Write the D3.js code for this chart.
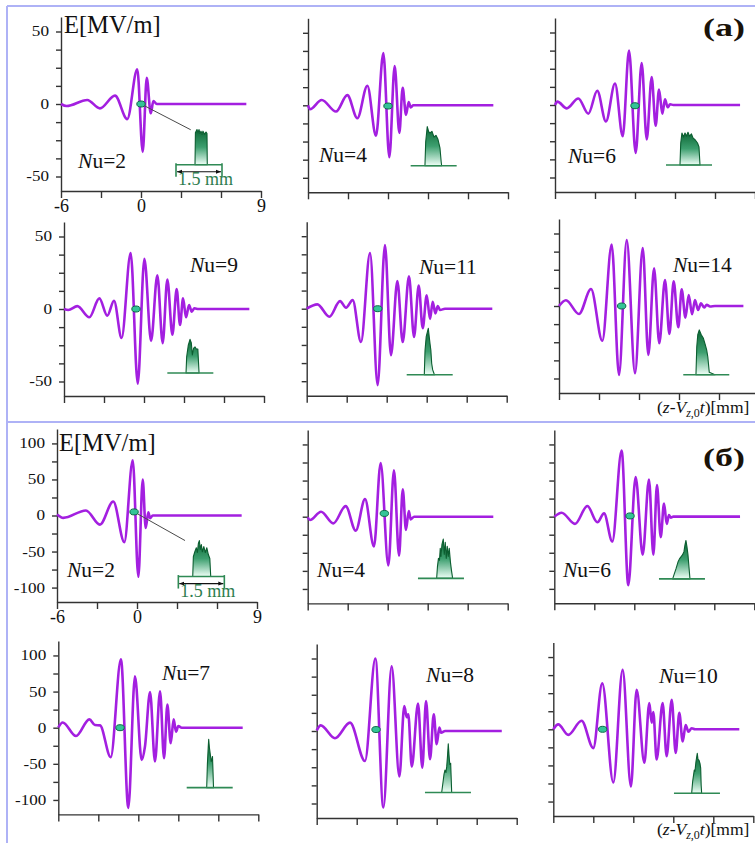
<!DOCTYPE html>
<html>
<head>
<meta charset="utf-8">
<script src="https://cdn.jsdelivr.net/npm/d3@7"></script>
<style>
  html, body { margin: 0; padding: 0; background: #fff; }
  svg { display: block; }
</style>
</head>
<body>
<svg id="fig" width="755" height="843"></svg>
<script>
// ---------- axes ----------
const X_DOMAIN = [-6, 9];
const X_TICKS = [-6, -3, 0, 3, 6, 9];
const X_TICK_LABELS = [-6, 0, 9];
const Y_DOMAIN_A = [-60, 60];
const Y_TICKS_A = [-50, -37.5, -25, -12.5, 0, 12.5, 25, 37.5, 50];
const Y_TICK_LABELS_A = [-50, 0, 50];
const Y_DOMAIN_B = [-120, 120];
const Y_TICKS_B = [-100, -75, -50, -25, 0, 25, 50, 75, 100];
const Y_TICK_LABELS_B = [-100, -50, 0, 50, 100];

// ---------- undulator periods ----------
const NU_A = [2, 4, 6, 9, 11, 14];
const NU_B = [2, 4, 6, 7, 8, 10];

// ---------- field E [MV/m] vs (z - Vz0 t) [mm]: extrema and knots ----------
const fieldA2 = [[-6,0],[-5.58,-1.4],[-4.03,2.8],[-3.08,-3],[-1.95,5.8],[-1.03,-10.4],[-0.28,24],[0.13,-33],[0.43,18],[0.73,-6.4],[0.93,2],[1.18,0],[7.9,0]];
const fieldA4 = [[-6,0],[-5.85,-2.7],[-4.97,3.7],[-3.9,-4.3],[-3.05,7],[-2.3,-8.9],[-1.55,13.5],[-0.9,-21],[-0.35,36],[0.1,-35.8],[0.5,27],[0.85,-19],[1.1,12],[1.35,-6.6],[1.55,2.3],[1.7,-1.4],[1.9,0],[7.9,0]];
const fieldA6 = [[-6,0],[-5.82,2.3],[-5.12,-2.3],[-4.25,4.5],[-3.5,-6],[-2.83,9.8],[-2.18,-11.4],[-1.5,14.8],[-0.92,-21.6],[-0.45,37.5],[0.05,-33],[0.5,29],[0.88,-23.8],[1.25,19.3],[1.55,-14.3],[1.8,10.7],[2.05,-6],[2.25,3.9],[2.45,-1.6],[2.63,0.5],[2.88,0],[7.88,0]];
const fieldA9 = [[-6,0],[-5.68,-0.7],[-5,2],[-4.1,-5.7],[-3.35,7.3],[-2.75,-4.6],[-2.25,5.7],[-1.68,-20],[-1.0,38.5],[-0.47,-51.5],[0.03,34.7],[0.53,-22],[1.0,23.3],[1.4,-23.5],[1.75,20.3],[2.13,-17.8],[2.45,13.7],[2.7,-11],[2.93,7.3],[3.15,-5.7],[3.38,2.7],[3.58,-1.8],[3.78,0.5],[4.08,0],[7.9,0]];
const fieldA11 = [[-6,0],[-5.2,3],[-4.3,-5.5],[-3.5,5.2],[-3.05,0.7],[-2.55,5.9],[-1.93,-23],[-1.25,38.4],[-0.68,-52.7],[-0.13,43.9],[0.32,-32],[0.8,19],[1.2,-23],[1.67,22.3],[2.05,-19.5],[2.4,16],[2.7,-13.4],[3.0,9.3],[3.25,-7],[3.45,4.8],[3.65,-3.2],[3.83,1.8],[4.0,-0.9],[4.37,0],[7.92,0]];
const fieldA14 = [[-6,0],[-5.48,4],[-4.5,-5.5],[-3.6,11.7],[-2.75,-24],[-2.05,42.4],[-1.5,-47.5],[-0.92,45.4],[-0.3,-46.3],[0.28,40],[0.7,-33.7],[1.13,26],[1.52,-25.7],[1.95,17.9],[2.28,-19.3],[2.6,17],[2.95,-14.7],[3.2,11.5],[3.48,-8],[3.73,7.6],[3.98,-5.7],[4.2,4.1],[4.43,-2.8],[4.65,1.8],[4.88,-1],[5.08,0.8],[5.33,-0.3],[5.7,0],[7.83,0]];

const fieldB2 = [[-6,1.4],[-5.53,-3.3],[-3.83,7],[-2.78,-12.6],[-1.78,19.5],[-0.95,-37],[-0.32,76.7],[0.1,-85],[0.43,49.8],[0.65,-17.2],[0.85,4.6],[0.98,-3.7],[1.18,0],[7.85,0]];
const fieldB4 = [[-6,-1],[-5.83,-4.6],[-5.0,6.9],[-4.08,-9.2],[-3.15,14.7],[-2.4,-19.3],[-1.7,24.3],[-1.03,-41.3],[-0.53,74.3],[0.05,-67.4],[0.47,64.2],[0.85,-54],[1.13,38],[1.37,-18.3],[1.58,7.8],[1.73,-3.7],[1.98,0],[7.92,0]];
const fieldB6 = [[-6,0],[-5.45,5.5],[-4.45,-10],[-3.52,14.7],[-2.77,-7.8],[-2.27,4.6],[-1.65,-34.4],[-0.95,91.7],[-0.45,-95],[0.1,55],[0.63,-52.8],[1.1,51.4],[1.43,-52.8],[1.7,43.6],[1.98,-28.4],[2.23,18.3],[2.43,-10],[2.6,2.3],[2.73,-1.4],[2.93,0],[7.93,0]];
const fieldB7 = [[-6,0.5],[-5.67,7.3],[-4.67,-11.5],[-3.67,11.5],[-3.25,3.7],[-2.87,3.2],[-2.07,-40.8],[-1.3,94.5],[-0.75,-111],[-0.25,71],[0.25,-44.5],[0.5,-26],[0.88,49.5],[1.25,-46.8],[1.63,50.5],[1.93,-42.2],[2.18,32],[2.43,-21.6],[2.65,11.5],[2.83,-5.5],[3.0,2.3],[3.25,0],[7.83,0]];
const fieldB8 = [[-6,0.9],[-5.7,7.8],[-4.63,-10],[-3.5,11.5],[-2.38,-41.3],[-1.6,100],[-1.0,-105.5],[-0.38,89.4],[0.2,-62.8],[0.57,34.4],[0.75,19],[0.87,23],[1.13,-49],[1.6,38],[1.92,-50.5],[2.2,41.3],[2.5,-39],[2.78,23],[3.0,-18.3],[3.2,4.6],[3.33,-2.3],[3.63,0],[7.88,0]];
const fieldB10 = [[-6,0],[-5.63,6.8],[-4.88,-7.7],[-3.88,11.8],[-3.0,-26],[-2.33,63.6],[-1.5,-73.6],[-0.8,82.3],[-0.18,-79],[0.25,54.5],[0.83,-46.4],[1.2,36.4],[1.38,9],[1.5,24],[1.75,-41.8],[2.2,36.4],[2.5,-37.3],[2.88,41],[3.18,-32.7],[3.45,22.7],[3.7,-16.8],[3.93,5.9],[4.13,-3.2],[4.38,1.4],[4.63,0],[7.95,0]];

// ---------- bunch position (mm, E) ----------
const bunchPosA = [[0,0],[0,-0.5],[0,-0.5],[-0.6,0],[-0.67,0],[-1.3,0]];
const bunchPosB = [[-0.22,5],[-0.25,4.5],[-0.32,1],[-1.37,0],[-1.55,2],[-2.3,0]];

// ---------- bunch current profiles: [mm within 1.5 mm window, relative height] ----------
const bunchA2 = [[0.62,0],[0.633,0.80],[0.652,0.83],[0.685,0.88],[0.717,0.80],[0.75,0.88],[0.783,0.78],[0.815,0.84],[0.848,0.76],[0.88,0.84],[0.929,0.76],[0.978,0.82],[1.011,0.78],[1.02,0]];
const bunchA4 = [[0.466,0],[0.49,0.6],[0.541,0.98],[0.587,0.85],[0.629,0.82],[0.695,0.86],[0.76,0.72],[0.825,0.76],[0.89,0.66],[0.955,0.45],[0.995,0.1],[1.01,0]];
const bunchA6 = [[0.456,0],[0.48,0.55],[0.52,0.8],[0.57,0.7],[0.62,0.8],[0.668,0.72],[0.717,0.82],[0.766,0.72],[0.83,0.78],[0.88,0.68],[0.962,0.62],[1.027,0.55],[1.076,0.45],[1.109,0]];
const bunchA9 = [[0.61,0],[0.63,0.4],[0.685,0.7],[0.74,0.84],[0.783,0.75],[0.815,0.45],[0.858,0.62],[0.903,0.65],[0.946,0.6],[0.995,0.6],[1.034,0]];
const bunchA11 = [[0.574,0],[0.597,0.6],[0.636,0.95],[0.704,1.16],[0.734,0.95],[0.76,0.78],[0.789,0.6],[0.815,0.28],[0.848,0.12],[0.89,0.03],[0.913,0]];
const bunchA14 = [[0.414,0],[0.44,0.7],[0.473,1.0],[0.522,1.12],[0.587,1.0],[0.652,0.92],[0.717,0.75],[0.763,0.62],[0.8,0.45],[0.848,0.06],[1.034,0]];
const bunchB2 = [[0.47,0],[0.49,0.5],[0.538,0.62],[0.587,0.72],[0.62,0.6],[0.652,0.82],[0.685,0.9],[0.717,0.68],[0.75,0.8],[0.783,0.62],[0.831,0.75],[0.88,0.6],[0.929,0.72],[0.978,0.55],[1.027,0.45],[1.056,0]];
const bunchB4 = [[0.61,0],[0.636,0.3],[0.668,0.5],[0.701,0.45],[0.727,0.75],[0.75,0.55],[0.783,0.85],[0.825,0.98],[0.858,0.6],[0.89,0.9],[0.923,0.5],[0.955,0.8],[0.988,0.55],[1.02,0.75],[1.06,0.4],[1.092,0.2],[1.131,0]];
const bunchB6 = [[0.447,0],[0.489,0.1],[0.554,0.25],[0.62,0.42],[0.668,0.5],[0.717,0.55],[0.766,0.6],[0.815,0.68],[0.848,0.85],[0.88,0.96],[0.913,0.8],[0.946,0.6],[0.978,0.3],[1.011,0]];
const bunchB7 = [[0.652,0],[0.675,0.6],[0.701,1.0],[0.717,1.21],[0.74,1.0],[0.766,0.85],[0.799,0.65],[0.825,0.72],[0.841,0.78],[0.858,0.4],[0.874,0]];
const bunchB8 = [[0.545,0],[0.587,0.25],[0.62,0.45],[0.652,0.56],[0.685,0.5],[0.708,0.64],[0.734,0.9],[0.76,1.22],[0.783,0.95],[0.809,0.7],[0.838,0.73],[0.858,0.3],[0.871,0]];
const bunchB10 = [[0.577,0],[0.61,0.3],[0.662,0.58],[0.685,0.55],[0.717,0.79],[0.76,1.0],[0.783,0.85],[0.815,0.83],[0.848,0.75],[0.871,0.63],[0.887,0.2],[0.903,0]];

const SCALE_BAR_MM = 1.5;

// ---------- layout ----------
// axis box of every panel: [left px, top px, bottom px]; width is common
const PANEL_W = 200;
const BOX_A = [[61,17,191],[308,18.3,192.3],[555,18,192],[64,222,396],[306.7,221.7,395.7],[559,219,393]];
const BOX_B = [[57,429,602],[307.7,430,603.4],[554.3,430,603.3],[58.3,641,814.4],[316.7,644,818],[553.3,642.6,816]];
// inset anchor (panel mm, panel E) and label anchor (panel mm, panel E)
const INSET_AT_A = [[2.625,-41.9],[1.70,-41.7],[2.325,-41.4],[1.75,-44.1],[1.5,-45.5],[3.32,-47.4]];
const INSET_AT_B = [[3.1,-84.7],[2.27,-85.3],[1.85,-86.2],[3.63,-83],[2.12,-84.8],[3.05,-88.6]];
const LABEL_AT_A = [[-4.72,-44.1],[-5.18,-38.9],[-5.03,-40],[3.45,25.7],[2.42,23.9],[2.55,23.7]];
const LABEL_AT_B = [[-5.25,-84.7],[-5.3,-83.5],[-5.35,-83],[1.78,66],[2.2,68.2],[1.93,64]];
const INSET_W = 46, INSET_H = 40;

const COLORS = {
  wave: "#a31fe0", axis: "#333", frame: "#aeb2f6",
  bunchLine: "#2f8a55", bunchStroke: "#0b5e30",
  dotFill: "#34c497", dotStroke: "#0c6b47", text: "#111"
};
const SERIF = '"Liberation Serif", "Times New Roman", serif';

const svg = d3.select("#fig");
const defs = svg.append("defs");
const grad = defs.append("linearGradient").attr("id", "bunchFill")
  .attr("x1", 0).attr("y1", 0).attr("x2", 0).attr("y2", 1);
grad.append("stop").attr("offset", "0").attr("stop-color", "#0b6634");
grad.append("stop").attr("offset", "0.5").attr("stop-color", "#3d9f6f");
grad.append("stop").attr("offset", "1").attr("stop-color", "#effff7");
defs.append("marker").attr("id", "arrowHead")
  .attr("viewBox", "0 0 10 10").attr("refX", 10).attr("refY", 5)
  .attr("markerWidth", 5).attr("markerHeight", 5).attr("markerUnits", "userSpaceOnUse")
  .attr("orient", "auto-start-reverse")
  .append("path").attr("d", "M0,1 L10,5 L0,9 Z").attr("fill", "#111");

// frames around the two sub-figures
const frame = svg.append("g").attr("stroke", COLORS.frame).attr("stroke-width", 2).attr("fill", "none");
frame.append("line").attr("x1", 7).attr("y1", 6).attr("x2", 755).attr("y2", 6);
frame.append("line").attr("x1", 7).attr("y1", 6).attr("x2", 7).attr("y2", 843);
frame.append("line").attr("x1", 7).attr("y1", 422).attr("x2", 755).attr("y2", 422);

const groups = [
  { nu: NU_A, fields: [fieldA2, fieldA4, fieldA6, fieldA9, fieldA11, fieldA14],
    bunches: [bunchA2, bunchA4, bunchA6, bunchA9, bunchA11, bunchA14],
    pos: bunchPosA, boxes: BOX_A, insetAt: INSET_AT_A, labelAt: LABEL_AT_A,
    yDomain: Y_DOMAIN_A, yTicks: Y_TICKS_A, yLabels: Y_TICK_LABELS_A },
  { nu: NU_B, fields: [fieldB2, fieldB4, fieldB6, fieldB7, fieldB8, fieldB10],
    bunches: [bunchB2, bunchB4, bunchB6, bunchB7, bunchB8, bunchB10],
    pos: bunchPosB, boxes: BOX_B, insetAt: INSET_AT_B, labelAt: LABEL_AT_B,
    yDomain: Y_DOMAIN_B, yTicks: Y_TICKS_B, yLabels: Y_TICK_LABELS_B }
];

// wide tick-label glyphs: fixed advance per digit and per minus sign
function labelWidth(s) {
  let w = 0;
  for (const c of s) w += (c === "-") ? 5.5 : 8.6;
  return w;
}

const line = d3.line().curve(d3.curveMonotoneX);

groups.forEach((grp, gi) => {
  grp.fields.forEach((field, i) => {
    const [L, T, B] = grp.boxes[i];
    const x = d3.scaleLinear().domain(X_DOMAIN).range([L, L + PANEL_W]);
    const y = d3.scaleLinear().domain(grp.yDomain).range([B, T]);
    const g = svg.append("g");
    const firstCol = (i % 3 === 0);
    const firstPanel = (i === 0);

    // x axis
    const xa = g.append("g").attr("transform", `translate(0,${B})`)
      .call(d3.axisBottom(x).tickValues(X_TICKS).tickSize(7).tickSizeOuter(0).tickPadding(1)
        .tickFormat(d => (firstPanel && X_TICK_LABELS.includes(d)) ? String(d) : ""));
    xa.selectAll("text").attr("font-family", SERIF).attr("font-size", 18).attr("fill", COLORS.text);

    // y axis
    const ya = g.append("g").attr("transform", `translate(${L},0)`)
      .call(d3.axisLeft(y).tickValues(grp.yTicks).tickSize(5).tickSizeOuter(0).tickPadding(7)
        .tickFormat(d => (firstCol && grp.yLabels.includes(d)) ? String(d) : ""));
    ya.selectAll("text").attr("font-family", SERIF).attr("font-size", 14).attr("fill", COLORS.text)
      .each(function () {
        const s = this.textContent;
        if (s) d3.select(this).attr("textLength", labelWidth(s)).attr("lengthAdjust", "spacingAndGlyphs");
      });
    g.selectAll(".domain, .tick line").attr("stroke", COLORS.axis).attr("stroke-width", 1.4);

    // field curve
    line.x(d => x(d[0])).y(d => y(d[1]));
    g.append("path").datum(field).attr("d", line)
      .attr("fill", "none").attr("stroke", COLORS.wave).attr("stroke-width", 2.6)
      .attr("stroke-linejoin", "round");

    // bunch profile inset
    const [ix, iy] = grp.insetAt[i];
    const x0 = x(ix), base = y(iy);
    const xi = d3.scaleLinear().domain([0, SCALE_BAR_MM]).range([x0, x0 + INSET_W]);
    const hi = d3.scaleLinear().domain([0, 1]).range([base, base - INSET_H]);
    const inset = g.append("g");

    // connector from the bunch marker to the inset (first panel of each set)
    const dot = grp.pos[i];
    if (firstPanel) {
      const tgt = gi === 0 ? [0.48, 0.875] : [0.218, 0.9];
      g.append("line").attr("x1", x(dot[0])).attr("y1", y(dot[1]))
        .attr("x2", xi(tgt[0])).attr("y2", hi(tgt[1]))
        .attr("stroke", "#4a4a4a").attr("stroke-width", 1);
    }

    inset.append("path").datum(grp.bunches[i])
      .attr("d", d3.area().x(d => xi(d[0])).y0(base).y1(d => hi(d[1])))
      .attr("fill", "url(#bunchFill)").attr("stroke", COLORS.bunchStroke).attr("stroke-width", 1.1)
      .attr("stroke-linejoin", "round");
    inset.append("line").attr("x1", xi(0)).attr("x2", xi(SCALE_BAR_MM))
      .attr("y1", base).attr("y2", base).attr("stroke", COLORS.bunchLine).attr("stroke-width", 1.6);

    if (firstPanel) {
      [0, SCALE_BAR_MM].forEach(v => {
        inset.append("line").attr("x1", xi(v)).attr("x2", xi(v))
          .attr("y1", base - 1.5).attr("y2", base + 12)
          .attr("stroke", COLORS.bunchLine).attr("stroke-width", 1.6);
      });
      inset.append("line").attr("x1", xi(0) + 1).attr("x2", xi(SCALE_BAR_MM) - 1)
        .attr("y1", base + 7).attr("y2", base + 7)
        .attr("stroke", "#111").attr("stroke-width", 1.2)
        .attr("marker-start", "url(#arrowHead)").attr("marker-end", "url(#arrowHead)");
      inset.append("text").attr("x", xi(0) + 2).attr("y", base + 20.5)
        .attr("font-family", SERIF).attr("font-size", 18).attr("fill", "#2e7d4f")
        .text(SCALE_BAR_MM + " mm");
    }

    // bunch marker
    g.append("ellipse").attr("cx", x(dot[0])).attr("cy", y(dot[1]))
      .attr("rx", 4.2).attr("ry", 3)
      .attr("fill", COLORS.dotFill).attr("stroke", COLORS.dotStroke).attr("stroke-width", 1);

    // Nu label
    const [lx, ly] = grp.labelAt[i];
    const t = g.append("text").attr("x", x(lx)).attr("y", y(ly))
      .attr("font-family", SERIF).attr("font-size", 21.5).attr("fill", COLORS.text);
    t.append("tspan").attr("font-style", "italic").text("N");
    t.append("tspan").text("u=" + grp.nu[i]);
  });
});

// axis titles and sub-figure letters
[[64, 33], [59, 451]].forEach(([px, py]) => {
  svg.append("text").attr("x", px).attr("y", py)
    .attr("font-family", SERIF).attr("font-size", 24.5).attr("fill", COLORS.text)
    .text("E[MV/m]");
});
[["(а)", 36], ["(б)", 466]].forEach(([s, py]) => {
  svg.append("text").attr("x", 703).attr("y", py)
    .attr("font-family", SERIF).attr("font-size", 26).attr("font-weight", "bold")
    .attr("fill", "#1a1208").attr("textLength", 42).attr("lengthAdjust", "spacingAndGlyphs")
    .text(s);
});
[413, 835].forEach(py => {
  const t = svg.append("text").attr("x", 657).attr("y", py)
    .attr("font-family", SERIF).attr("font-size", 17.5).attr("fill", COLORS.text);
  t.append("tspan").text("(");
  t.append("tspan").attr("font-style", "italic").text("z");
  t.append("tspan").text("-");
  t.append("tspan").attr("font-style", "italic").text("V");
  t.append("tspan").attr("font-size", 12).attr("dy", 4).attr("font-style", "italic").text("z");
  t.append("tspan").attr("font-size", 12).text(",0");
  t.append("tspan").attr("dy", -4).attr("font-style", "italic").text("t");
  t.append("tspan").text(")[mm]");
});
</script>
</body>
</html>
